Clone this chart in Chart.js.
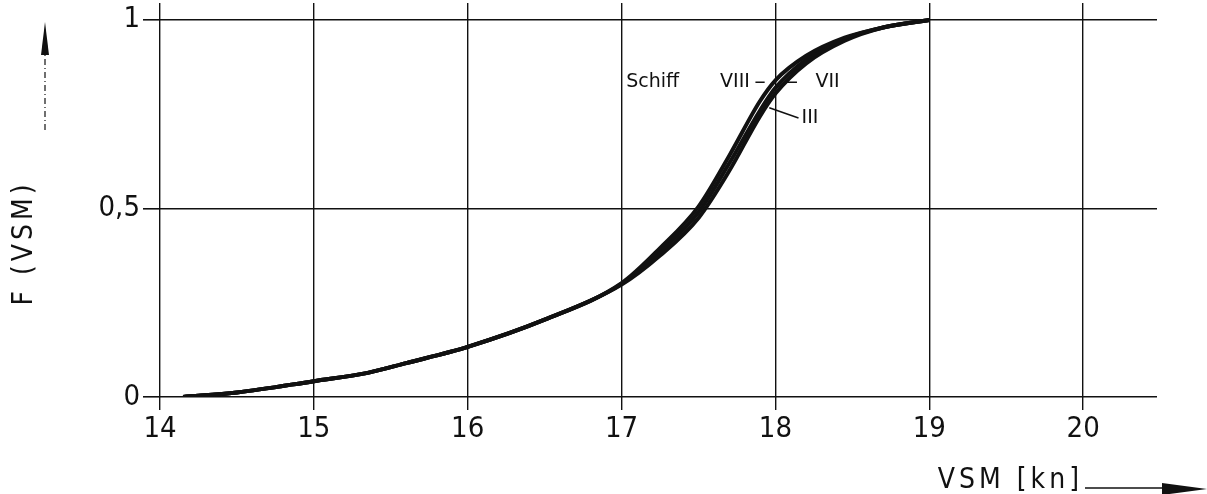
<!DOCTYPE html>
<html>
<head>
<meta charset="utf-8">
<title>F (VSM)</title>
<script src="https://cdn.jsdelivr.net/npm/chart.js"></script>
<style>
  html, body { margin: 0; padding: 0; background: white; }
  #wrap { width: 1207px; height: 494px; }
</style>
</head>
<body>
<div id="wrap"><canvas id="cdf"></canvas></div>
<script>
// speeds (kn) where the curves were read
const speeds = [14.15, 14.5, 15, 15.35, 15.6, 16, 16.5, 17, 17.25, 17.5, 17.7, 17.9, 18, 18.2, 18.45, 18.7, 19];
// cumulative distribution per ship
const shipVIII = [0, 0.012, 0.042, 0.064, 0.09, 0.133, 0.205, 0.302, 0.395, 0.505, 0.64, 0.785, 0.84, 0.905, 0.953, 0.98, 1.0];
const shipVII  = [0, 0.012, 0.042, 0.064, 0.09, 0.133, 0.205, 0.300, 0.385, 0.490, 0.62, 0.760, 0.82, 0.895, 0.950, 0.98, 1.0];
const shipIII  = [0, 0.012, 0.042, 0.064, 0.09, 0.133, 0.205, 0.298, 0.375, 0.475, 0.60, 0.745, 0.805, 0.885, 0.945, 0.98, 1.0];
const xTicks = [14, 15, 16, 17, 18, 19, 20];
const yTicks = [0, 0.5, 1];

const narrow = "'Liberation Sans Narrow', 'DejaVu Sans Condensed', 'Liberation Sans', sans-serif";
const ink = '#111';

function series(ys) {
  return speeds.map((s, i) => ({ x: s, y: ys[i] }));
}
function line(label, ys) {
  return {
    label: label,
    data: series(ys),
    borderColor: ink,
    borderWidth: 4,
    pointRadius: 0,
    cubicInterpolationMode: 'monotone',
    fill: false
  };
}

// hand-lettered labels, arrows and axis titles
const notes = {
  id: 'notes',
  afterDraw(chart) {
    const ctx = chart.ctx;
    const x = chart.scales.x, y = chart.scales.y;
    const px = v => x.getPixelForValue(v), py = v => y.getPixelForValue(v);
    ctx.save();
    ctx.fillStyle = ink;
    ctx.strokeStyle = ink;
    ctx.textBaseline = 'middle';
    ctx.textAlign = 'left';
    ctx.font = "19px 'DejaVu Sans', sans-serif";
    ctx.fillText('Schiff', px(17.03), py(0.835));
    ctx.fillText('VIII', px(17.64), py(0.835));
    ctx.fillText('VII', px(18.26), py(0.835));
    ctx.fillText('III', px(18.17), py(0.74));
    ctx.lineWidth = 1.5;
    ctx.beginPath();
    ctx.moveTo(px(17.87), py(0.835)); ctx.lineTo(px(17.93), py(0.835));
    ctx.moveTo(px(18.07), py(0.835)); ctx.lineTo(px(18.14), py(0.835));
    ctx.moveTo(px(17.96), py(0.767)); ctx.lineTo(px(18.15), py(0.74));
    ctx.stroke();

    // y title
    ctx.font = '28px ' + narrow;
    if ('letterSpacing' in ctx) ctx.letterSpacing = '4px';
    ctx.save();
    ctx.translate(25, 243);
    ctx.rotate(-Math.PI / 2);
    ctx.textAlign = 'center';
    ctx.fillText('F (VSM)', 0, 0);
    ctx.restore();
    // x title
    ctx.textAlign = 'right';
    ctx.fillText('VSM [kn]', 1083, 481);
    if ('letterSpacing' in ctx) ctx.letterSpacing = '0px';

    // up arrow
    ctx.lineWidth = 1.2;
    ctx.setLineDash([6, 3, 1, 3]);
    ctx.beginPath(); ctx.moveTo(45, 130); ctx.lineTo(45, 55); ctx.stroke();
    ctx.setLineDash([]);
    ctx.beginPath(); ctx.moveTo(45, 22); ctx.lineTo(49, 55); ctx.lineTo(41, 55); ctx.closePath(); ctx.fill();
    // right arrow
    ctx.lineWidth = 1.5;
    ctx.beginPath(); ctx.moveTo(1085, 488); ctx.lineTo(1163, 488); ctx.stroke();
    ctx.beginPath(); ctx.moveTo(1207, 489); ctx.lineTo(1162, 483); ctx.lineTo(1162, 495); ctx.closePath(); ctx.fill();
    ctx.restore();
  }
};

new Chart(document.getElementById('cdf'), {
  type: 'line',
  data: {
    datasets: [line('VIII', shipVIII), line('VII', shipVII), line('III', shipIII)]
  },
  options: {
    responsive: true,
    maintainAspectRatio: false,
    animation: false,
    layout: { padding: { top: 3, right: 50, left: 0, bottom: 0 } },
    plugins: { legend: { display: false }, tooltip: { enabled: false } },
    scales: {
      x: {
        type: 'linear',
        min: 14,
        max: 20.48,
        afterBuildTicks: s => { s.ticks = xTicks.map(v => ({ value: v })); },
        afterFit: s => { s.height = 97; s.paddingLeft = 0; s.paddingRight = 0; },
        border: { display: false },
        grid: { color: ink, lineWidth: 1.4, tickLength: 13, tickColor: ink },
        ticks: {
          color: ink,
          padding: 2,
          maxRotation: 0,
          font: { family: narrow, size: 29 }
        }
      },
      y: {
        type: 'linear',
        min: 0,
        max: 1.045,
        afterBuildTicks: s => { s.ticks = yTicks.map(v => ({ value: v })); },
        afterFit: s => { s.width = 160; s.paddingTop = 0; s.paddingBottom = 0; },
        border: { display: false },
        grid: { color: ink, lineWidth: 1.6, tickLength: 17, tickColor: ink },
        ticks: {
          color: ink,
          padding: 3,
          font: { family: narrow, size: 29 },
          callback: v => String(v).replace('.', ',')
        }
      }
    }
  },
  plugins: [notes]
});
</script>
</body>
</html>
